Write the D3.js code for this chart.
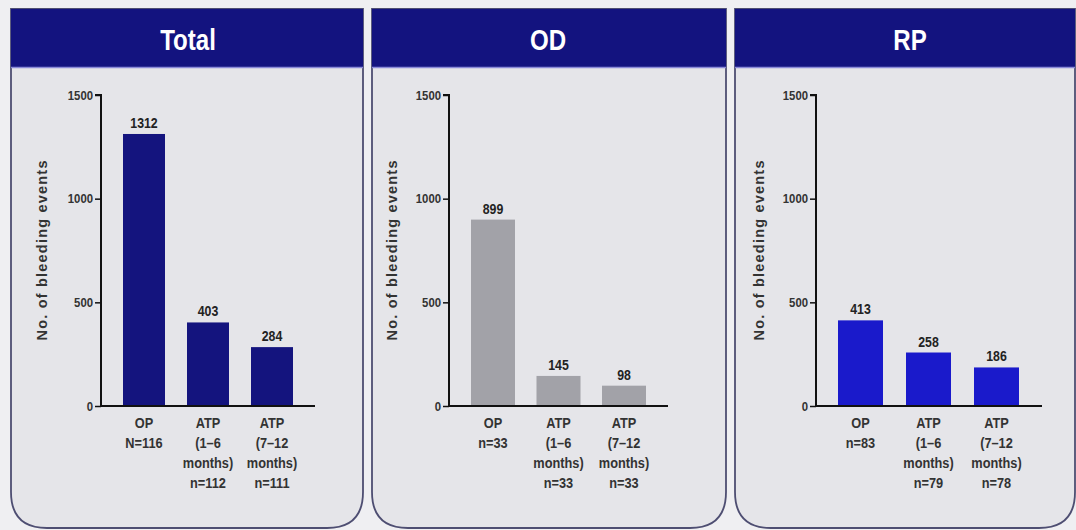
<!DOCTYPE html>
<html><head><meta charset="utf-8">
<script src="https://cdn.jsdelivr.net/npm/d3@7"></script>
<style>
html,body{margin:0;padding:0;background:#efeff2;}
svg{display:block;}
text{font-family:"Liberation Sans",Arial,sans-serif;}
</style></head>
<body>
<svg id="c" width="1076" height="530"></svg>
<script>
// ---- data ----
const panelTitles = ["Total", "OD", "RP"];
const categories = ["OP", "ATP (1–6 months)", "ATP (7–12 months)"];
const totalValues = [1312, 403, 284];
const odValues = [899, 145, 98];
const rpValues = [413, 258, 186];
const totalLabels = [["OP","N=116"],["ATP","(1–6","months)","n=112"],["ATP","(7–12","months)","n=111"]];
const odLabels = [["OP","n=33"],["ATP","(1–6","months)","n=33"],["ATP","(7–12","months)","n=33"]];
const rpLabels = [["OP","n=83"],["ATP","(1–6","months)","n=79"],["ATP","(7–12","months)","n=78"]];
const yTicks = [0, 500, 1000, 1500];
const yTitle = "No. of bleeding events";

// ---- layout ----
const panels = [
  {title: panelTitles[0], values: totalValues, labels: totalLabels, color: "#14147e",
   x0: 11, x1: 363, cx: 188, axisX: 101, axisEnd: 315, barStart: 123, step: 64, bw: 42, titleX: 47},
  {title: panelTitles[1], values: odValues, labels: odLabels, color: "#a2a2a8",
   x0: 372, x1: 726, cx: 548, axisX: 449, axisEnd: 668, barStart: 471, step: 65.5, bw: 44, titleX: 397},
  {title: panelTitles[2], values: rpValues, labels: rpLabels, color: "#1a1acb",
   x0: 735, x1: 1075, cx: 910, axisX: 816, axisEnd: 1042, barStart: 838, step: 68, bw: 45, titleX: 764}
];
const headTop = 9, headBot = 67, bodyBot = 528, radius = 36;
const yTop = 95, yZero = 406;

// condense text horizontally (no narrow font available)
function condense(sel, f) {
  sel.each(function () {
    const w = this.getComputedTextLength();
    d3.select(this).attr("textLength", w * f).attr("lengthAdjust", "spacingAndGlyphs");
  });
}

const svg = d3.select("#c");
const y = d3.scaleLinear().domain([0, 1500]).range([yZero, yTop]);

panels.forEach(p => {
  const g = svg.append("g");
  const path = `M${p.x0},${headTop} L${p.x1},${headTop} L${p.x1},${bodyBot - radius} Q${p.x1},${bodyBot} ${p.x1 - radius},${bodyBot} L${p.x0 + radius},${bodyBot} Q${p.x0},${bodyBot} ${p.x0},${bodyBot - radius} Z`;
  g.append("path").attr("d", path).attr("fill", "#e5e5e9").attr("stroke", "#4e4e72").attr("stroke-width", 1.8);
  g.append("rect").attr("x", p.x0).attr("y", headTop).attr("width", p.x1 - p.x0).attr("height", headBot - headTop)
    .attr("fill", "#13137f");
  g.append("line").attr("x1", p.x0).attr("x2", p.x1).attr("y1", headBot + 0.5).attr("y2", headBot + 0.5)
    .attr("stroke", "#8a8ad8").attr("stroke-width", 1.5);
  const tt = g.append("text").attr("x", p.cx).attr("y", 50)
    .attr("text-anchor", "middle").attr("fill", "#fff").attr("font-size", 29).attr("font-weight", "bold")
    .text(p.title);
  condense(tt, 0.83);

  const r0 = p.barStart - (p.step - p.bw) / 2;
  const pi = 1 - p.bw / p.step;
  const x = d3.scaleBand().domain(categories).range([r0, r0 + 3 * p.step]).paddingInner(pi).paddingOuter(pi / 2);

  g.selectAll("rect.bar").data(p.values).join("rect").attr("class", "bar")
    .attr("x", (d, i) => x(categories[i])).attr("width", x.bandwidth())
    .attr("y", d => y(d)).attr("height", d => y(0) - y(d)).attr("fill", p.color);

  const vl = g.selectAll("text.val").data(p.values).join("text").attr("class", "val")
    .attr("x", (d, i) => x(categories[i]) + x.bandwidth() / 2).attr("y", d => y(d) - 6)
    .attr("text-anchor", "middle").attr("font-size", 14.5).attr("font-weight", "bold").attr("fill", "#222")
    .text(d => d);
  condense(vl, 0.85);

  const ya = d3.axisLeft(y).tickValues(yTicks).tickSize(6).tickPadding(2).tickFormat(d3.format("d"));
  const ag = g.append("g").attr("transform", `translate(${p.axisX},0)`).call(ya);
  ag.attr("font-family", null).attr("font-size", null);
  ag.select(".domain").attr("stroke", "#111").attr("stroke-width", 2).attr("d", `M-6,${yTop}H0V${yZero}`);
  ag.selectAll(".tick line").attr("stroke", "#111").attr("stroke-width", 1.5);
  const tl = ag.selectAll(".tick text").attr("font-size", 13.5).attr("font-weight", "bold").attr("fill", "#333");
  condense(tl, 0.84);

  const xa = d3.axisBottom(x).tickSize(0).tickFormat("");
  const xg = g.append("g").attr("transform", `translate(0,${yZero})`).call(xa);
  xg.select(".domain").attr("stroke", "#111").attr("stroke-width", 2).attr("d", `M${p.axisX},0H${p.axisEnd}`);

  p.labels.forEach((lines, i) => {
    lines.forEach((ln, j) => {
      const t = g.append("text").attr("text-anchor", "middle").attr("font-size", 14.5).attr("font-weight", "bold")
        .attr("fill", "#333")
        .attr("x", x(categories[i]) + x.bandwidth() / 2).attr("y", 428 + j * 20).text(ln);
      condense(t, 0.88);
    });
  });

  g.append("text").attr("transform", `translate(${p.titleX},${(yTop + yZero) / 2}) rotate(-90)`)
    .attr("text-anchor", "middle").attr("font-size", 14.5).attr("font-weight", "bold").attr("fill", "#333")
    .attr("textLength", 180).attr("lengthAdjust", "spacing")
    .text(yTitle);
});
</script>
</body></html>
